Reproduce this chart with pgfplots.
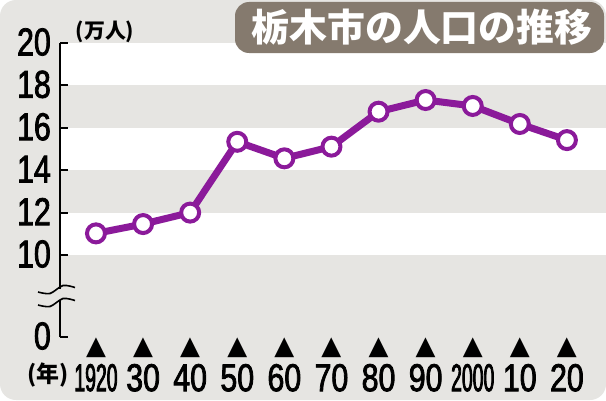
\documentclass[border=0pt]{standalone}
\usepackage{fontspec}
\usepackage{pgfplots}
\pgfplotsset{compat=1.18}
\setmainfont{Liberation Sans}
\newfontfamily\cjk{Noto Sans CJK JP}
\newfontfamily\numfont[FakeStretch=0.78, FakeBold=2]{Liberation Sans}
\newfontfamily\numnarrow[FakeStretch=0.5, FakeBold=2]{Liberation Sans}
\newfontfamily\symfont{DejaVu Sans}
\definecolor{bg}{HTML}{E6E5E2}
\definecolor{titlebg}{HTML}{857A6E}
\definecolor{linepurple}{HTML}{8B1A9A}

% x tick label: triangle above the year
\newcommand{\xl}[2][\numfont]{\vbox{\offinterlineskip
  \hbox to 0pt{\hss{\symfont\fontsize{26}{26}\selectfont ▲}\hss}
  \vskip 6bp
  \hbox to 0pt{\hss{#1\fontsize{39}{39}\selectfont #2}\hss}}}

\begin{document}
\begin{tikzpicture}[x=1bp,y=1bp]
\fill[white] (0,0) rectangle (606,400);
\fill[bg, rounded corners=16bp] (0,0) rectangle (606,400);

\begin{axis}[
    at={(60bp,63bp)}, anchor=south west,
    scale only axis,
    width=546bp, height=294bp,
    xmin=1912.36, xmax=2028.3,
    ymin=6.132, ymax=20,
    clip=false,
    axis on top,
    axis lines*=left,
    x axis line style={draw=none},
    y axis line style={line width=2.5bp},
    xtick={1920,1930,...,2020},
    xticklabels={\xl[\numnarrow]{1920},\xl{30},\xl{40},\xl{50},\xl{60},\xl{70},\xl{80},\xl{90},\xl[\numnarrow]{2000},\xl{10},\xl{20}},
    xtick style={draw=none},
    xticklabel style={anchor=north, inner sep=0pt, yshift=-1bp},
    ytick={6.132,10,12,14,16,18,20},
    yticklabels={0,10,12,14,16,18,20},
    yticklabel style={anchor=east, inner sep=0pt, xshift=-9bp, yshift=1bp,
        font=\numfont\fontsize{39}{39}\selectfont},
    tick align=inside,
    major tick length=8bp,
    ytick style={line width=2bp, black},
]
\fill[white] (axis cs:1912.36,18) rectangle (axis cs:2028.3,20);
\fill[white] (axis cs:1912.36,14) rectangle (axis cs:2028.3,16);
\fill[white] (axis cs:1912.36,10) rectangle (axis cs:2028.3,12);

\addplot[linepurple, line width=7bp, mark=*, mark size=9bp,
    mark options={fill=white, draw=linepurple, line width=4bp}]
coordinates {
    (1920,11.02) (1930,11.46) (1940,12.00) (1950,15.34) (1960,14.56)
    (1970,15.11) (1980,16.76) (1990,17.31) (2000,17.03) (2010,16.18)
    (2020,15.42)
};
\end{axis}

% axis break
\fill[bg] (53,100) rectangle (68,111);
\draw[line width=1.6bp] plot[smooth] coordinates {(38,108) (50,106.5) (63,114.5) (75,112.5)};
\draw[line width=1.6bp] plot[smooth] coordinates {(38,95) (50,93.5) (63,101.5) (75,99.5)};

% title
\fill[titlebg, rounded corners=14bp] (235,347) rectangle (604,398);
\node[text=white, inner sep=0pt] at (422,373)
    {\cjk\bfseries\fontsize{38}{38}\selectfont 栃木市の人口の推移};

% units
\node[inner sep=0pt] at (105,368) {\cjk\bfseries\fontsize{21}{21}\selectfont (万人)};
\node[inner sep=0pt] at (48,25) {\cjk\bfseries\fontsize{23}{23}\selectfont (年)};

\pgfresetboundingbox
\useasboundingbox (0,0) rectangle (606,400);
\end{tikzpicture}
\end{document}
